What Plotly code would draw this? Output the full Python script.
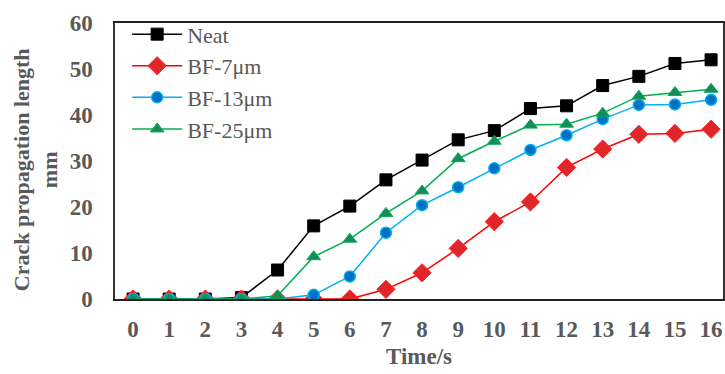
import plotly.graph_objects as go

time_s = list(range(17))
neat = [0, 0, 0, 0.3, 6.3, 15.9, 20.2, 25.9, 30.2, 34.6, 36.6, 41.4, 42.0, 46.4, 48.4, 51.2, 52.0]
bf7 = [0, 0, 0, 0, 0, 0, 0, 2.1, 5.7, 11.0, 16.8, 21.1, 28.6, 32.6, 35.8, 36.0, 36.9]
bf13 = [0, 0, 0, 0, 0, 0.9, 4.9, 14.4, 20.4, 24.3, 28.4, 32.4, 35.6, 39.1, 42.2, 42.3, 43.3]
bf25 = [0, 0, 0, 0, 0.7, 9.2, 13.0, 18.6, 23.5, 30.5, 34.3, 37.8, 38.0, 40.4, 44.1, 44.9, 45.6]
series_names = ["Neat", "BF-7μm", "BF-13μm", "BF-25μm"]
y_ticks = [0, 10, 20, 30, 40, 50, 60]

FONT = "Liberation Serif, Times New Roman, serif"
GRAY = "#595959"

styles = [
    dict(line=dict(color="#000000", width=1.5),
         marker=dict(symbol="square", size=12, color="#000000", line=dict(color="#000000", width=1))),
    dict(line=dict(color="#ff0000", width=1.5),
         marker=dict(symbol="diamond", size=14, color="#e0262b", line=dict(color="#ff2020", width=1))),
    dict(line=dict(color="#00b0f0", width=1.5),
         marker=dict(symbol="circle", size=11, color="#0070c0", line=dict(color="#00b0f0", width=1.5))),
    dict(line=dict(color="#00b050", width=1.5),
         marker=dict(symbol="triangle-up", size=12, color="#168a5a", line=dict(color="#00b050", width=1))),
]

fig = go.Figure()
for name, ys, st in zip(series_names, [neat, bf7, bf13, bf25], styles):
    fig.add_trace(go.Scatter(x=time_s, y=ys, name=name, mode="lines+markers",
                             line=st["line"], marker=st["marker"]))

fig.update_layout(
    width=725, height=374,
    margin=dict(l=115, r=0, t=23, b=75),
    plot_bgcolor="white", paper_bgcolor="white",
    font=dict(family=FONT, color=GRAY),
    showlegend=True,
    legend=dict(x=0.02, y=1.035, xanchor="left", yanchor="top",
                font=dict(family=FONT, size=22, color=GRAY),
                bgcolor="rgba(0,0,0,0)", tracegroupgap=0, itemwidth=50),
    xaxis=dict(range=[-0.5, 16.33], tickvals=time_s, ticktext=[str(t) for t in time_s],
               showgrid=False, zeroline=False, showline=True, linecolor="#222222", linewidth=2,
               mirror=True, ticks="", ticklabelstandoff=8,
               tickfont=dict(family=FONT, size=23, color=GRAY, weight="bold")),
    yaxis=dict(range=[0, 60], tickvals=y_ticks, showgrid=False, zeroline=False,
               showline=True, linecolor="#333333", linewidth=1.5, mirror=True, ticks="",
               ticklabelstandoff=16,
               tickfont=dict(family=FONT, size=23, color=GRAY, weight="bold")),
    annotations=[
        dict(text="<b>Time/s</b>", x=0.5, y=-0.21, xref="paper", yref="paper",
             xanchor="center", yanchor="middle", showarrow=False,
             font=dict(family=FONT, size=23, color=GRAY)),
        dict(text="<b>Crack propagation length<br>mm</b>", x=-0.13, y=0.47, xref="paper", yref="paper",
             xanchor="center", yanchor="middle", textangle=-90, showarrow=False,
             font=dict(family=FONT, size=22, color=GRAY)),
    ],
)

fig.write_html("out.html")
